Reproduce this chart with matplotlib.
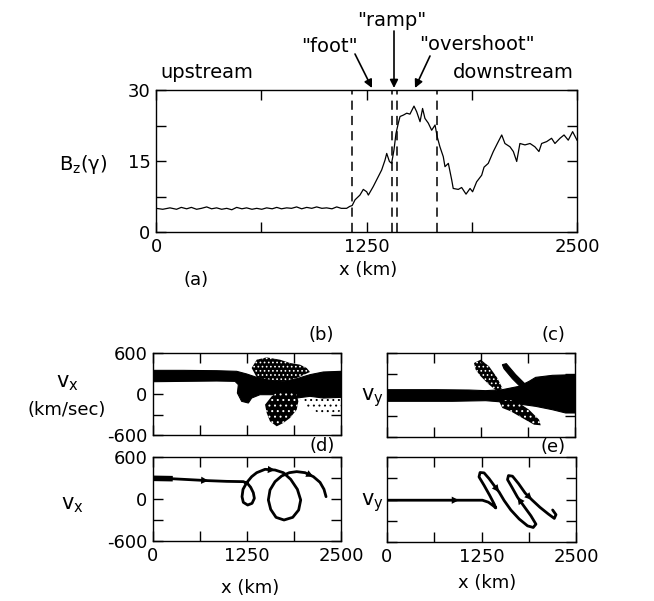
import matplotlib
matplotlib.use('Agg')
import matplotlib.pyplot as plt
from matplotlib.patches import Polygon, FancyArrowPatch

W, H = 654, 601

# ---- (a) Bz profile across the shock ----
bz_x = [0, 40, 83, 122, 150, 182, 210, 241, 270, 301, 330, 360, 390, 420, 450, 479, 510, 538, 570, 598,
        628, 657, 690, 717, 745, 776, 805, 835, 865, 895, 925, 954, 985, 1013, 1045, 1073, 1100, 1132, 1150, 1165,
        1182, 1211, 1231, 1251, 1261, 1290, 1320, 1340, 1360, 1370, 1386, 1399, 1413, 1425, 1439, 1449, 1469, 1489,
        1508, 1532, 1548, 1568, 1583, 1597, 1617, 1637, 1657, 1670, 1686, 1706, 1716, 1736, 1756, 1765, 1795, 1815,
        1841, 1865, 1880, 1904, 1934, 1948, 1973, 2003, 2027, 2053, 2072, 2102, 2122, 2142, 2161, 2191, 2221, 2250,
        2274, 2290, 2320, 2349, 2369, 2399, 2423, 2448, 2474, 2500]
bz_val = [5.0, 4.8, 5.1, 4.8, 5.2, 4.9, 5.2, 4.8, 5.0, 5.3, 4.9, 5.1, 4.8, 5.0, 4.7, 5.2, 4.9, 5.1, 4.8, 5.0,
          4.8, 5.1, 4.9, 5.2, 4.9, 5.1, 5.0, 5.3, 4.9, 5.2, 5.0, 5.3, 5.0, 5.1, 4.9, 5.3, 5.0, 5.0, 5.4, 5.6,
          6.8, 7.8, 9.0, 8.5, 7.8, 9.6, 11.7, 13.1, 15.2, 16.6, 14.9, 14.5, 17.3, 20.8, 23.0, 24.4, 24.7, 25.1,
          24.9, 26.6, 25.4, 23.3, 26.1, 24.0, 23.0, 21.5, 22.6, 20.1, 18.0, 15.9, 13.8, 14.5, 11.0, 9.2, 9.0, 9.4,
          8.0, 9.2, 8.5, 10.6, 12.0, 13.7, 14.5, 17.0, 18.7, 20.5, 18.7, 18.0, 17.0, 14.9, 18.7, 18.4, 18.7, 18.0,
          17.0, 18.7, 19.1, 19.8, 18.7, 19.8, 20.5, 19.4, 21.2, 19.4]
dash_x = [1165, 1403, 1433, 1670]

# ---- (b) vx phase space (envelopes of the dense regions) ----
b_top_x = [0, 403, 847, 1113, 1246, 1379, 1556, 1733, 1911, 2088, 2265, 2500]
b_top_v = [346, 346, 341, 332, 293, 244, 210, 185, 224, 283, 322, 332]
b_bot_x = [2500, 2265, 2088, 1911, 1733, 1600, 1423, 1312, 1268, 1179, 1122, 1135, 1091, 847, 403, 0]
b_bot_v = [-49, -59, -34, -59, -59, -10, -10, -59, -132, -107, 15, 137, 185, 190, 185, 180]
b_up_x = [1312, 1379, 1512, 1689, 1822, 1955, 2044, 2088, 1911, 1733, 1556, 1379]
b_up_v = [380, 502, 536, 502, 454, 429, 380, 322, 234, 185, 210, 244]
b_lo_x = [1578, 1645, 1778, 1911, 1933, 1911, 1822, 1733, 1645, 1556, 1512, 1490]
b_lo_v = [-34, 15, 39, -10, -107, -229, -351, -424, -473, -400, -278, -156]
b_sp_x = [1955, 2500, 2500, 2265, 2044]
b_sp_v = [-59, -59, -254, -302, -205]

# ---- (c) vy phase space ----
c_top_x = [0, 647, 1091, 1312, 1534, 1756, 1889, 1977, 2199, 2500]
c_top_v = [76, 76, 71, 62, 76, 124, 195, 252, 281, 291]
c_bot_x = [2500, 2376, 2199, 1977, 1756, 1534, 1312, 869, 0]
c_bot_v = [-257, -257, -210, -162, -129, -100, -81, -90, -90]
c_b1_x = [1157, 1246, 1357, 1467, 1534, 1467, 1357, 1246, 1179]
c_b1_v = [457, 505, 410, 243, 100, 52, 148, 267, 362]
c_b2_x = [1534, 1587, 1711, 1844, 1880, 1800, 1667, 1556]
c_b2_v = [433, 448, 291, 148, 76, 90, 233, 376]
c_b3_x = [1490, 1623, 1756, 1889, 2022, 2044, 1955, 1800, 1645, 1534]
c_b3_v = [-90, -67, -114, -210, -352, -433, -424, -329, -233, -186]

# ---- (d) single ion trajectory, vx ----
d_x = [13, 226, 403, 736, 980, 1201, 1255, 1299, 1334, 1348, 1317, 1259, 1201, 1184, 1197, 1246, 1312, 1379,
       1490, 1623, 1733, 1831, 1920, 1964, 1937, 1858, 1742, 1636, 1565, 1534, 1556, 1623, 1711, 1813, 1911,
       2022, 2133, 2221, 2274, 2301]
d_v = [295, 291, 281, 262, 252, 248, 224, 167, 90, 10, -62, -86, -48, 33, 138, 233, 319, 376, 424, 414, 376,
       281, 138, -14, -157, -262, -300, -262, -148, -14, 129, 248, 329, 376, 391, 376, 319, 238, 138, 33]
d_arrows = [3, 19, 36]

# ---- (e) single ion trajectory, vy ----
e_x = [0, 376, 952, 1262, 1341, 1403, 1439, 1417, 1359, 1284, 1217, 1231, 1284, 1350, 1425, 1483, 1549, 1638,
       1749, 1859, 1934, 1970, 1903, 1815, 1726, 1651, 1594, 1607, 1660, 1740, 1828, 1917, 2023, 2134, 2213,
       2235, 2191]
e_v = [-10, -10, -10, -10, -38, -86, -119, -62, 57, 200, 319, 381, 376, 295, 186, 105, -14, -148, -276, -372,
       -395, -348, -229, -100, 33, 176, 281, 338, 329, 224, 90, -5, -110, -205, -267, -214, -148]
e_arrows = [2, 15, 24, 31]

plt.rcParams['font.family'] = ['DejaVu Sans']
plt.rcParams['hatch.linewidth'] = 0.7
fig = plt.figure(figsize=(W / 100, H / 100), dpi=100)


def box(x0, y0, x1, y1):
    return fig.add_axes([x0 / W, 1 - y1 / H, (x1 - x0) / W, (y1 - y0) / H])


def label(px, py, s, size=13, **kw):
    fig.text(px / W, 1 - py / H, s, fontsize=size, ha='center', va='center', **kw)


def style(ax, xlab, ylab, yt, ytl):
    ax.set_xlim(0, 2500)
    ax.set_xticks([0, 625, 1250, 1875, 2500],
                  labels=['0', '', '1250', '', '2500'] if xlab else [''] * 5)
    ax.set_yticks(yt, labels=ytl if ylab else [''] * len(yt))
    ax.tick_params(direction='in', top=True, right=True, length=7, width=1,
                   labelsize=13, pad=4)
    for s in ax.spines.values():
        s.set_linewidth(1)


def poly(ax, xs, vs, hatch=None, dots='w'):
    pts = list(zip(xs, vs))
    if hatch and dots == 'w':
        # black cloud with white holes
        ax.add_patch(Polygon(pts, closed=True, facecolor='k', edgecolor='w', hatch=hatch, lw=0))
    elif hatch:
        ax.add_patch(Polygon(pts, closed=True, facecolor='none', edgecolor='k', hatch=hatch, lw=0))
    else:
        ax.add_patch(Polygon(pts, closed=True, facecolor='k', edgecolor='k', lw=0.8))


def arrows(ax, xs, vs, idx):
    for i in idx:
        ax.annotate('', xy=(xs[i], vs[i]), xytext=(xs[i - 1], vs[i - 1]),
                    arrowprops=dict(arrowstyle='-|>', color='k', lw=0, mutation_scale=13,
                                    shrinkA=0, shrinkB=0))


# (a)
ax = box(156, 90, 577, 232)
ax.plot(bz_x, bz_val, color='k', lw=0.9)
for xd in dash_x:
    ax.axvline(xd, color='k', lw=1.1, dashes=(6, 4))
ax.set_ylim(0, 30)
style(ax, True, True, [0, 7.5, 15, 22.5, 30], ['0', '', '15', '', '30'])

for tx, ty, s in [(207, 72, 'upstream'), (513, 72, 'downstream'), (329, 46, '"foot"'),
                  (392, 20, '"ramp"'), (477, 45, '"overshoot"')]:
    label(tx, ty, s, size=14)
for x0, y0, x1, y1 in [(355, 54, 372, 88), (394, 31, 394, 88), (430, 56, 415, 88)]:
    fig.add_artist(FancyArrowPatch(
        (x0 / W, 1 - y0 / H), (x1 / W, 1 - y1 / H), transform=fig.transFigure,
        arrowstyle='-|>', color='k', lw=1.2, mutation_scale=12, shrinkA=0, shrinkB=0))
label(83, 165, r'$\mathrm{B_z(\gamma)}$', size=14)
label(368, 270, 'x (km)', size=13)
label(196, 280, '(a)', size=13)

# (b)
ax = box(153, 353, 341, 435)
ax.set_ylim(-600, 600)
poly(ax, b_top_x + b_bot_x, b_top_v + b_bot_v)
poly(ax, b_up_x, b_up_v, hatch='....')
poly(ax, b_lo_x, b_lo_v, hatch='...')
poly(ax, b_sp_x, b_sp_v, hatch='...', dots='k')
style(ax, False, True, [-600, -300, 0, 300, 600], ['-600', '', '0', '', '600'])
label(67, 383, r'$\mathrm{v_x}$', size=15)
label(67, 410, '(km/sec)', size=13)
label(321, 335, '(b)', size=13)

# (c)
ax = box(387, 353, 575, 437)
ax.set_ylim(-600, 600)
poly(ax, c_top_x + c_bot_x, c_top_v + c_bot_v)
poly(ax, c_b1_x, c_b1_v, hatch='....')
poly(ax, c_b2_x, c_b2_v)
poly(ax, c_b3_x, c_b3_v, hatch='...')
style(ax, False, False, [-600, -300, 0, 300, 600], [''] * 5)
label(372, 398, r'$\mathrm{v_y}$', size=15)
label(553, 335, '(c)', size=13)

# (d)
ax = box(153, 457, 341, 541)
ax.set_ylim(-600, 600)
ax.plot(d_x, d_v, color='k', lw=2, solid_joinstyle='round', solid_capstyle='round')
ax.plot(d_x[:2], d_v[:2], color='k', lw=4)
arrows(ax, d_x, d_v, d_arrows)
style(ax, True, True, [-600, -300, 0, 300, 600], ['-600', '', '0', '', '600'])
label(72, 505, r'$\mathrm{v_x}$', size=15)
label(322, 446, '(d)', size=13)
label(250, 588, 'x (km)', size=13)

# (e)
ax = box(387, 457, 576, 542)
ax.set_ylim(-600, 600)
ax.plot(e_x, e_v, color='k', lw=2, solid_joinstyle='round', solid_capstyle='round')
arrows(ax, e_x, e_v, e_arrows)
style(ax, True, False, [-600, -300, 0, 300, 600], [''] * 5)
label(372, 503, r'$\mathrm{v_y}$', size=15)
label(553, 447, '(e)', size=13)
label(487, 583, 'x (km)', size=13)

fig.savefig('out.png', dpi=100)
